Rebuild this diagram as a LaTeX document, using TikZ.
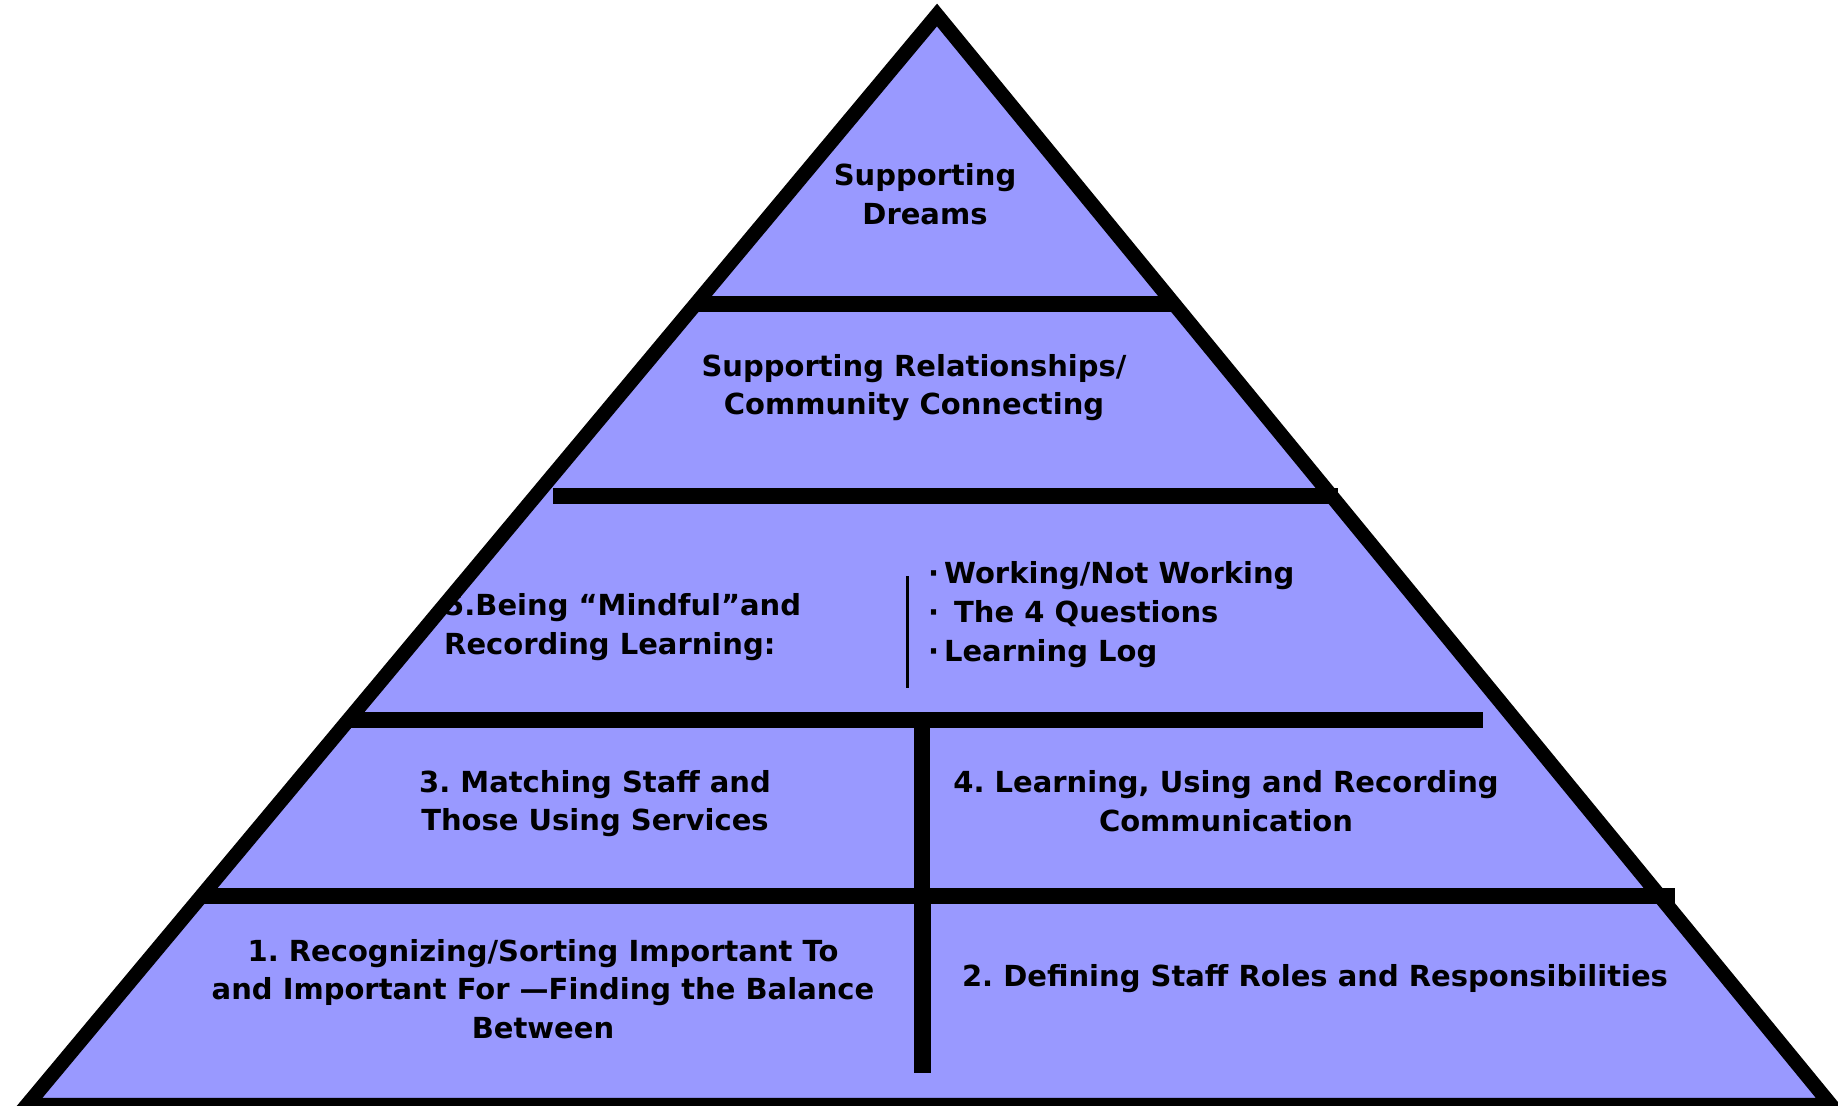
\documentclass[tikz,border=0pt]{standalone}
\usepackage{fontspec}
\setmainfont{DejaVu Sans}
\definecolor{pyrfill}{HTML}{9999FF}
\frenchspacing
\begin{document}
\begin{tikzpicture}[x=1pt,y=-1pt,
  lbl/.style={font=\bfseries\fontsize{29}{38.7}\selectfont, align=center, inner sep=0pt},
  bar/.style={line width=16.5pt, line cap=butt},
  outline/.style={line width=14.5pt, line join=miter, miter limit=10}]
\useasboundingbox (0,0) rectangle (1838,1105);
% corners
\coordinate (apex) at (937,15);
\coordinate (bl) at (27,1105);
\coordinate (br) at (1831,1105);
\fill[pyrfill] (apex) -- (bl) -- (br) -- cycle;
% labels
\node[lbl] (dreams) at (925,194) {Supporting\\Dreams};
\node[lbl] (rel) at (914,387.5) {Supporting Relationships/\\Community Connecting};
\node[lbl, align=left, anchor=west] (mind) at (444,627) {5.Being “Mindful”and\\Recording Learning:};
\node[lbl, align=left, anchor=west] (bul) at (928,614.5) {·\,Working/Not Working\\·\, The 4 Questions\\·\,Learning Log};
\node[lbl] (three) at (595,803.5) {3. Matching Staff and\\Those Using Services};
\node[lbl] (four) at (1226,801) {4. Learning, Using and Recording\\Communication};
\node[lbl] (one) at (543,989) {1. Recognizing/Sorting Important To\\and Important For —Finding the Balance\\Between};
\node[lbl] (two) at (1315,978.5) {2. Defining Staff Roles and Responsibilities};
% bars
\coordinate (b1l) at (696,304); \coordinate (b1r) at (1174,304);
\coordinate (b2l) at (553,496); \coordinate (b2r) at (1338,496);
\coordinate (b3l) at (348,720); \coordinate (b3r) at (1483,720);
\coordinate (b4l) at (201,896); \coordinate (b4r) at (1675,896);
\coordinate (d1t) at (922,720); \coordinate (d1b) at (922,896);
\coordinate (d2t) at (922,896); \coordinate (d2b) at (922,1073);
\coordinate (tlt) at (907.5,576); \coordinate (tlb) at (907.5,688);
\draw[bar] (b1l) -- (b1r);
\draw[bar] (b2l) -- (b2r);
\draw[bar] (b3l) -- (b3r);
\draw[bar] (b4l) -- (b4r);
\draw[line width=16pt] (d1t) -- (d1b);
\draw[line width=17pt] (d2t) -- (d2b);
\draw[line width=3pt] (tlt) -- (tlb);
% outline on top
\draw[outline] (apex) -- (bl) -- (br) -- cycle;
\end{tikzpicture}
\end{document}
